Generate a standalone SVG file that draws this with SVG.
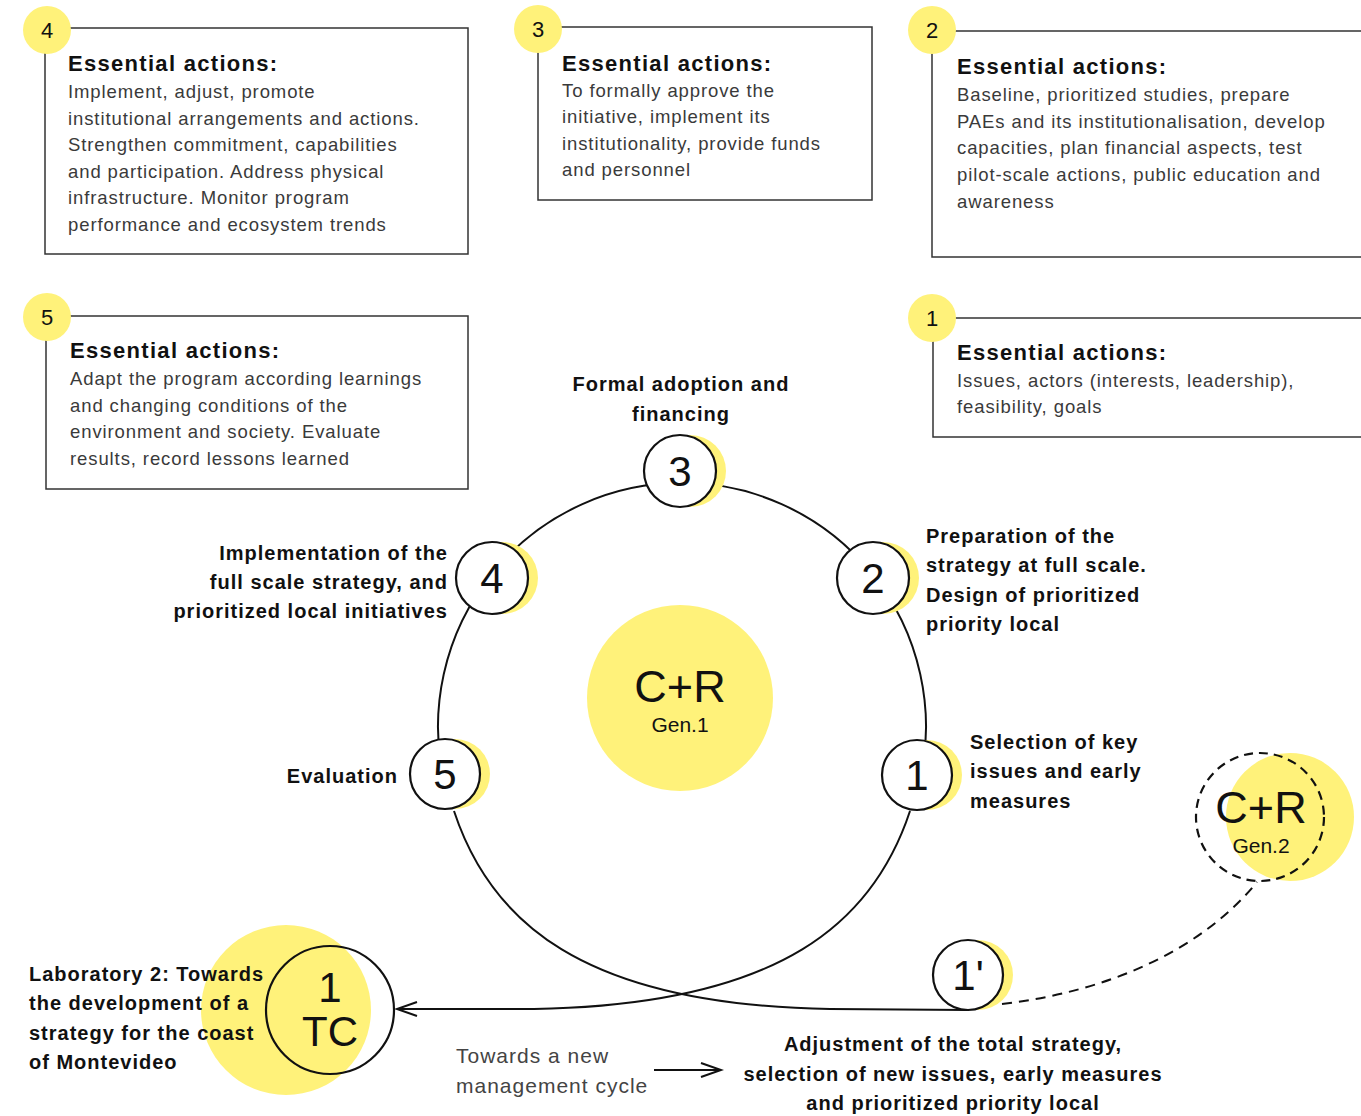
<svg xmlns="http://www.w3.org/2000/svg" width="1361" height="1116" viewBox="0 0 1361 1116">
  <style>
    text { font-family: "Liberation Sans", Arial, sans-serif; }
    .box { fill: none; stroke: #333; stroke-width: 1.5; }
    .yl { fill: #FFF27A; }
    .node { fill: #fff; stroke: #111; stroke-width: 2.2; }
    .ring { fill: none; stroke: #111; stroke-width: 2.2; }
    .num { font-size: 42px; text-anchor: middle; fill: #111; }
    .badge-num { font-size: 22px; text-anchor: middle; fill: #111; }
    .title { font-size: 22px; font-weight: bold; letter-spacing: 1.3px; fill: #111; }
    .body { font-size: 18.5px; letter-spacing: 0.9px; fill: #3a3a3a; }
    .lbl { font-size: 20px; font-weight: bold; letter-spacing: 1px; fill: #111; }
    .end { text-anchor: end; }
    .mid { text-anchor: middle; }
    .note { font-size: 21px; letter-spacing: 1px; fill: #444; }
    .big { font-size: 45px; text-anchor: middle; fill: #111; }
    .gen { font-size: 21px; text-anchor: middle; fill: #111; }
    .conn { fill: none; stroke: #111; stroke-width: 2; }
    .dash { fill: none; stroke: #111; stroke-width: 2; stroke-dasharray: 10 7; }
  </style>
  <defs>
    <marker id="open-arrow" markerUnits="userSpaceOnUse" markerWidth="24" markerHeight="20" refX="21" refY="10" orient="auto">
      <path d="M 1,3 L 21,10 L 1,17" fill="none" stroke="#111" stroke-width="2"/>
    </marker>
  </defs>

  <!-- Essential actions boxes -->
  <g id="box-4">
    <rect class="box" x="45" y="28" width="423" height="226"/>
    <circle class="yl" cx="47" cy="30" r="24"/>
    <text class="badge-num" x="47" y="38">4</text>
    <text class="title" x="68" y="71">Essential actions:</text>
    <text class="body">
      <tspan x="68" y="98">Implement, adjust, promote</tspan>
      <tspan x="68" y="125">institutional arrangements and actions.</tspan>
      <tspan x="68" y="151">Strengthen commitment, capabilities</tspan>
      <tspan x="68" y="178">and participation. Address physical</tspan>
      <tspan x="68" y="204">infrastructure. Monitor program</tspan>
      <tspan x="68" y="231">performance and ecosystem trends</tspan>
    </text>
  </g>
  <g id="box-3">
    <rect class="box" x="538" y="27" width="334" height="173"/>
    <circle class="yl" cx="538" cy="29" r="24"/>
    <text class="badge-num" x="538" y="37">3</text>
    <text class="title" x="562" y="71">Essential actions:</text>
    <text class="body">
      <tspan x="562" y="97">To formally approve the</tspan>
      <tspan x="562" y="123">initiative, implement its</tspan>
      <tspan x="562" y="150">institutionality, provide funds</tspan>
      <tspan x="562" y="176">and personnel</tspan>
    </text>
  </g>
  <g id="box-2">
    <path class="box" d="M 1370,31 H 932 V 257 H 1370"/>
    <circle class="yl" cx="932" cy="30" r="24"/>
    <text class="badge-num" x="932" y="38">2</text>
    <text class="title" x="957" y="74">Essential actions:</text>
    <text class="body">
      <tspan x="957" y="101">Baseline, prioritized studies, prepare</tspan>
      <tspan x="957" y="128">PAEs and its institutionalisation, develop</tspan>
      <tspan x="957" y="154">capacities, plan financial aspects, test</tspan>
      <tspan x="957" y="181">pilot-scale actions, public education and</tspan>
      <tspan x="957" y="208">awareness</tspan>
    </text>
  </g>
  <g id="box-5">
    <rect class="box" x="46" y="316" width="422" height="173"/>
    <circle class="yl" cx="47" cy="317" r="24"/>
    <text class="badge-num" x="47" y="325">5</text>
    <text class="title" x="70" y="358">Essential actions:</text>
    <text class="body">
      <tspan x="70" y="385">Adapt the program according learnings</tspan>
      <tspan x="70" y="412">and changing conditions of the</tspan>
      <tspan x="70" y="438">environment and society. Evaluate</tspan>
      <tspan x="70" y="465">results, record lessons learned</tspan>
    </text>
  </g>
  <g id="box-1">
    <path class="box" d="M 1370,318 H 933 V 437 H 1370"/>
    <circle class="yl" cx="932" cy="318" r="24"/>
    <text class="badge-num" x="932" y="326">1</text>
    <text class="title" x="957" y="360">Essential actions:</text>
    <text class="body">
      <tspan x="957" y="387">Issues, actors (interests, leadership),</tspan>
      <tspan x="957" y="413">feasibility, goals</tspan>
    </text>
  </g>

  <!-- Centre: C+R generation 1 -->
  <g id="cr-gen1">
    <circle class="yl" cx="680" cy="698" r="93"/>
    <text class="big" x="680" y="702">C+R</text>
    <text class="gen" x="680" y="732">Gen.1</text>
  </g>

  <!-- Connectors -->
  <g id="connectors">
    <!-- cycle arc 5 → 4 → 3 → 2 → 1 -->
    <path class="conn" d="M 443,776 A 244 244 0 1 1 921,776"/>
    <!-- from 5 down to 1' -->
    <path class="conn" d="M 454,811 C 490,920 580,1005 830,1009 L 968,1010"/>
    <!-- from 1 down to the TC lab -->
    <path class="conn" d="M 910,811 C 874,920 784,1005 534,1009 L 397,1009" marker-end="url(#open-arrow)"/>
    <!-- from 1' to generation 2 -->
    <path class="dash" d="M 1002,1004 C 1105,992 1200,952 1257,882"/>
    <!-- new management cycle arrow -->
    <path class="conn" d="M 654,1070 H 721" marker-end="url(#open-arrow)"/>
  </g>

  <!-- Cycle nodes -->
  <g id="node-3">
    <circle class="yl" cx="690" cy="471" r="36"/>
    <circle class="node" cx="680" cy="471" r="36"/>
    <text class="num" x="680" y="486">3</text>
    <text class="lbl mid" x="681" y="391">Formal adoption and</text>
    <text class="lbl mid" x="681" y="421">financing</text>
  </g>
  <g id="node-4">
    <circle class="yl" cx="502" cy="578" r="36"/>
    <circle class="node" cx="492" cy="578" r="36"/>
    <text class="num" x="492" y="593">4</text>
    <text class="lbl end" x="448" y="560">Implementation of the</text>
    <text class="lbl end" x="448" y="589">full scale strategy, and</text>
    <text class="lbl end" x="448" y="618">prioritized local initiatives</text>
  </g>
  <g id="node-2">
    <circle class="yl" cx="883" cy="578" r="36"/>
    <circle class="node" cx="873" cy="578" r="36"/>
    <text class="num" x="873" y="593">2</text>
    <text class="lbl">
      <tspan x="926" y="543">Preparation of the</tspan>
      <tspan x="926" y="572">strategy at full scale.</tspan>
      <tspan x="926" y="602">Design of prioritized</tspan>
      <tspan x="926" y="631">priority local</tspan>
    </text>
  </g>
  <g id="node-5">
    <circle class="yl" cx="455" cy="774" r="35"/>
    <circle class="node" cx="445" cy="774" r="35"/>
    <text class="num" x="445" y="789">5</text>
    <text class="lbl end" x="398" y="783">Evaluation</text>
  </g>
  <g id="node-1">
    <circle class="yl" cx="927" cy="775" r="35"/>
    <circle class="node" cx="917" cy="775" r="35"/>
    <text class="num" x="917" y="790">1</text>
    <text class="lbl">
      <tspan x="970" y="749">Selection of key</tspan>
      <tspan x="970" y="778">issues and early</tspan>
      <tspan x="970" y="808">measures</tspan>
    </text>
  </g>
  <g id="node-1prime">
    <circle class="yl" cx="978" cy="975" r="35"/>
    <circle class="node" cx="968" cy="975" r="35"/>
    <text class="num" x="968" y="990">1'</text>
    <text class="lbl mid" x="953" y="1051">Adjustment of the total strategy,</text>
    <text class="lbl mid" x="953" y="1081">selection of new issues, early measures</text>
    <text class="lbl mid" x="953" y="1110">and prioritized priority local</text>
  </g>

  <!-- Laboratory 2: TC -->
  <g id="node-tc">
    <circle class="yl" cx="286" cy="1010" r="85"/>
    <circle class="ring" cx="330" cy="1010" r="64"/>
    <text class="num" x="330" y="1002">1</text>
    <text class="num" x="330" y="1046">TC</text>
    <text class="lbl">
      <tspan x="29" y="981">Laboratory 2: Towards</tspan>
      <tspan x="29" y="1010">the development of a</tspan>
      <tspan x="29" y="1040">strategy for the coast</tspan>
      <tspan x="29" y="1069">of Montevideo</tspan>
    </text>
  </g>

  <!-- C+R generation 2 -->
  <g id="cr-gen2">
    <circle class="yl" cx="1290" cy="817" r="64"/>
    <circle class="ring" cx="1260" cy="817" r="64" stroke-dasharray="9 6" stroke-width="2"/>
    <text class="big" x="1261" y="823">C+R</text>
    <text class="gen" x="1261" y="853">Gen.2</text>
  </g>

  <!-- Cycle note -->
  <g id="note">
    <text class="note">
      <tspan x="456" y="1063">Towards a new</tspan>
      <tspan x="456" y="1093">management cycle</tspan>
    </text>
  </g>
</svg>
